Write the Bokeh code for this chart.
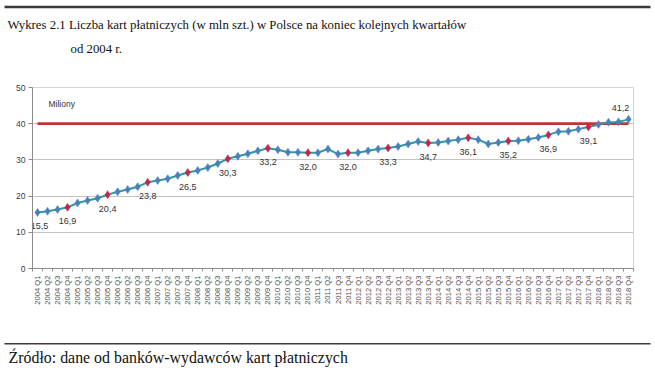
import math
from bokeh.plotting import figure
from bokeh.layouts import column
from bokeh.models import Label, FixedTicker, Range1d, ColumnDataSource
from bokeh.core.properties import value
from bokeh.embed import file_html
from bokeh.resources import INLINE

# ---------------- data ----------------
years = list(range(2004, 2019))
quarters = [f"{y} Q{q}" for y in years for q in range(1, 5)]

cards_mln = [
    15.5, 15.8, 16.3, 16.9,   # 2004
    18.1, 18.8, 19.4, 20.4,   # 2005
    21.2, 21.8, 22.6, 23.8,   # 2006
    24.3, 24.8, 25.7, 26.5,   # 2007
    27.1, 27.9, 29.0, 30.3,   # 2008
    31.0, 31.7, 32.5, 33.2,   # 2009
    32.8, 32.1, 32.1, 32.0,   # 2010
    32.0, 33.0, 31.6, 32.0,   # 2011
    32.0, 32.5, 33.0, 33.3,   # 2012
    33.7, 34.4, 35.1, 34.7,   # 2013
    34.8, 35.2, 35.6, 36.1,   # 2014
    35.6, 34.4, 34.8, 35.2,   # 2015
    35.3, 35.7, 36.2, 36.9,   # 2016
    37.8, 37.9, 38.5, 39.1,   # 2017
    39.8, 40.4, 40.5, 41.2,   # 2018
]

highlighted_quarters = [f"{y} Q4" for y in range(2004, 2018)]
labelled_quarters = ["2004 Q1"] + [f"{y} Q4" for y in range(2004, 2019)]
labels_above = ["2018 Q4"]
reference_level = 40.0
y_ticks = [0, 10, 20, 30, 40, 50]

title_line1 = "Wykres 2.1 Liczba kart płatniczych (w mln szt.) w Polsce na koniec kolejnych kwartałów"
title_line2 = "od 2004 r."
unit_text = "Miliony"
source_text = "Źródło: dane od banków-wydawców kart płatniczych"

W = 652
SERIF = value("Liberation Serif")
RULE = "#3a3a3a"


def no_align(f):
    if "frame_align" in f.properties():
        f.frame_align = False
    return f


def blank_fig(h):
    f = figure(width=W, height=h, output_backend="svg", toolbar_location=None,
               x_range=Range1d(0, W), y_range=Range1d(h, 0),
               x_axis_type=None, y_axis_type=None, min_border=0)
    f.outline_line_color = None
    f.grid.visible = False
    f.background_fill_color = "white"
    f.border_fill_color = "white"
    return no_align(f)


# ---------------- header (page y 0..75) ----------------
HH = 75
header = blank_fig(HH)
header.line(x=[4, 650], y=[6.5, 6.5], line_color=RULE, line_width=2.5)
header.text(x=[7], y=[24.5], text=[title_line1], text_font=SERIF, text_font_size="12.8px",
            text_color="#111111", text_baseline="alphabetic", text_align="left")
header.text(x=[70], y=[48], text=[title_line2], text_font=SERIF, text_font_size="12.8px",
            text_color="#111111", text_baseline="alphabetic", text_align="left")

# ---------------- chart (page y 75..320) ----------------
xi = list(range(len(quarters)))

p = figure(width=W, height=245, output_backend="svg", toolbar_location=None,
           x_range=Range1d(-0.5, len(quarters) - 0.5), y_range=Range1d(0, 50),
           min_border_left=32, min_border_right=W - 633, min_border_top=12, min_border_bottom=52)
no_align(p)
p.background_fill_color = "white"
p.border_fill_color = "white"
p.outline_line_color = "#d4d4d4"

p.yaxis.ticker = FixedTicker(ticks=y_ticks)
p.yaxis.axis_line_color = "#8c8c8c"
p.yaxis.major_tick_line_color = "#8c8c8c"
p.yaxis.major_tick_out = 4
p.yaxis.major_tick_in = 0
p.yaxis.minor_tick_line_color = None
p.yaxis.major_label_standoff = 3
p.yaxis.major_label_text_font = "Liberation Sans"
p.yaxis.major_label_text_font_size = "8.5px"
p.yaxis.major_label_text_color = "#404040"

p.xaxis.ticker = FixedTicker(ticks=xi, minor_ticks=[i - 0.5 for i in range(len(quarters) + 1)])
p.xaxis.major_label_overrides = {i: q for i, q in zip(xi, quarters)}
p.xaxis.major_label_orientation = math.pi / 2
p.xaxis.axis_line_color = "#8c8c8c"
p.xaxis.major_tick_out = 0
p.xaxis.major_tick_in = 0
p.xaxis.minor_tick_out = 3
p.xaxis.minor_tick_in = 0
p.xaxis.minor_tick_line_color = "#8c8c8c"
p.xaxis.major_label_standoff = 4
p.xaxis.major_label_text_font = "Liberation Sans"
p.xaxis.major_label_text_font_size = "7.6px"
p.xaxis.major_label_text_color = "#505050"

p.xgrid.grid_line_color = None
p.ygrid.ticker = FixedTicker(ticks=y_ticks)
p.ygrid.grid_line_color = "#c4c4c4"
p.ygrid.grid_line_width = 1.2

# reference line at 40
p.line(x=[xi[0], xi[-1]], y=[reference_level, reference_level],
       line_color="#BD3630", line_width=2.8)

# main series
p.line(x=xi, y=cards_mln, line_color="#2F9A9C", line_width=2)
src = ColumnDataSource(dict(
    x=xi, y=cards_mln,
    c=["#C2254E" if q in highlighted_quarters else "#4A7FBF" for q in quarters]))
p.scatter(x="x", y="y", source=src, marker="diamond", size=8,
          fill_color="c", line_color="c", line_width=0.5)

# data labels
lx, ly, lt, xo, yo = [], [], [], [], []
for q in labelled_quarters:
    i = quarters.index(q)
    lx.append(i)
    ly.append(cards_mln[i])
    lt.append(f"{cards_mln[i]:.1f}".replace(".", ","))
    yo.append(-11 if q in labels_above else 14)
    xo.append(2 if i == 0 else (-8 if i == len(quarters) - 1 else 0))
p.text(x=lx, y=ly, text=lt, x_offset=xo, y_offset=yo, text_align="center",
       text_baseline="middle", text_font=value("Liberation Sans"),
       text_font_size="9px", text_color="#333333")

p.add_layout(Label(x=16, y=165, x_units="screen", y_units="screen",
                   text=unit_text, text_font="Liberation Sans", text_font_size="8.5px",
                   text_color="#333333", text_baseline="middle"))

# ---------------- footer (page y 320..373) ----------------
FH = 53
footer = blank_fig(FH)
footer.line(x=[4, 650], y=[23.3, 23.3], line_color=RULE, line_width=1.6)
footer.text(x=[8], y=[36.5], text=[source_text], text_font=SERIF, text_font_size="15.9px",
            text_color="#111111", text_baseline="alphabetic", text_align="left")

layout = column(header, p, footer, spacing=0)
open("out.html", "w").write(file_html(layout, INLINE))
